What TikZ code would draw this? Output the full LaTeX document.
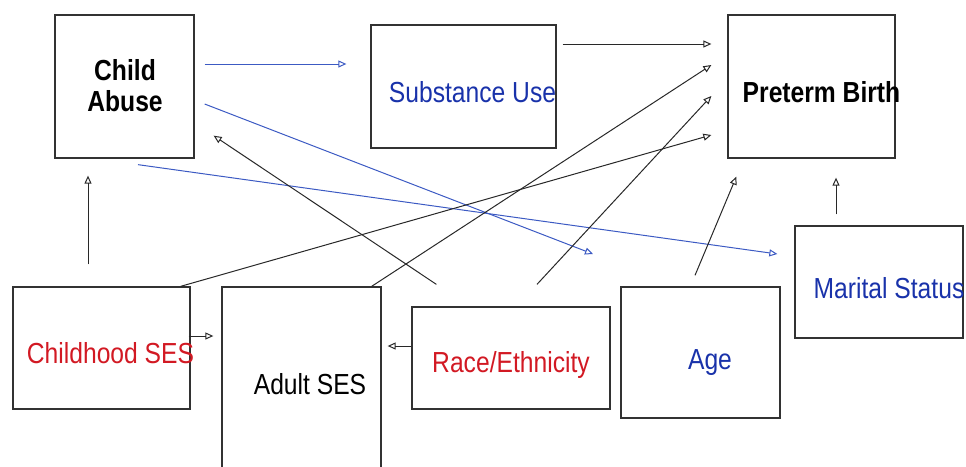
\documentclass[tikz,border=0pt]{standalone}
\usepackage{fontspec}
\setmainfont{Liberation Sans}
\usepackage{graphicx}
\usetikzlibrary{arrows.meta,calc}
\definecolor{boxline}{RGB}{50,50,50}
\definecolor{arrline}{RGB}{40,40,40}
\definecolor{arrblue}{RGB}{60,90,195}
\definecolor{txtblue}{RGB}{25,50,170}
\definecolor{txtred}{RGB}{210,25,35}
\newcommand{\nar}[1]{\scalebox{0.85}[1]{#1}}
\tikzset{
  varbox/.style={draw=boxline, line width=1.3pt, inner sep=0pt, fill=none},
  vtext/.style={anchor=base, inner sep=0pt, font=\fontsize{29}{31}\selectfont},
  conn/.style={draw=arrline, line width=1pt, -{Triangle[open,length=8pt,width=7pt]}},
  bconn/.style={draw=arrblue, line width=1pt, -{Triangle[open,length=8pt,width=7pt]}},
}
\begin{document}
\begin{tikzpicture}[x=1pt,y=-1pt]
\useasboundingbox (0,0) rectangle (966,466);
\clip (0,0) rectangle (966,466);
% boxes
\node[varbox, minimum width=139pt, minimum height=143pt] (ca) at (124.5,86.5) {};
\node[varbox, minimum width=185pt, minimum height=123pt] (su) at (463.5,86.5) {};
\node[varbox, minimum width=167pt, minimum height=143pt] (pb) at (811.5,86.5) {};
\node[varbox, minimum width=168pt, minimum height=112pt] (ms) at (879,282) {};
\node[varbox, minimum width=159pt, minimum height=131pt] (age) at (700.5,352.5) {};
\node[varbox, minimum width=198pt, minimum height=102pt] (re) at (511,358) {};
\node[varbox, minimum width=159pt, minimum height=193pt] (as) at (301.5,383.5) {};
\node[varbox, minimum width=177pt, minimum height=122pt] (cs) at (101.5,348) {};
% texts
\node[vtext, anchor=center] (cat) at (125,89.3) {\nar{\bfseries\begin{tabular}{@{}c@{}}Child\\Abuse\end{tabular}}};
\node[vtext, text=txtblue] (sut) at (472.5,102) {\nar{Substance Use}};
\node[vtext] (pbt) at (821.5,102) {\nar{\bfseries Preterm Birth}};
\node[vtext, text=txtblue] (mst) at (889,298) {\nar{Marital Status}};
\node[vtext, text=txtblue] (aget) at (710,369) {\nar{Age}};
\node[vtext, text=txtred] (ret) at (511,372) {\nar{Race/Ethnicity}};
\node[vtext] (ast) at (310,394) {\nar{Adult SES}};
\node[vtext, text=txtred] (cst) at (110.5,363) {\nar{Childhood SES}};
% free end
\coordinate (free1) at (593,254);
% blue connectors
\draw[bconn] ($(ca.east)+(10,-22.5)$) -- ($(su.west)+(-24,-22.5)$);
\draw[bconn] ($(ca.east)+(10,17.5)$) -- (free1);
\draw[bconn] ($(ca.south)+(13.5,6)$) -- ($(ms.west)+(-17,-28)$);
% black connectors
\draw[conn] ($(su.east)+(6,-42.5)$) -- ($(pb.west)+(-16,-42.5)$);
\draw[conn] ($(as.north east)+(-10,0)$) -- ($(pb.west)+(-16,-21.5)$);
\draw[conn] ($(re.north)+(26,-22)$) -- ($(pb.west)+(-16,9.5)$);
\draw[conn] ($(cs.north east)+(-10,0)$) -- ($(pb.west)+(-16,48.5)$);
\draw[conn] ($(re.north west)+(25,-22)$) -- ($(ca.south east)+(19,-23)$);
\draw[conn] ($(age.north)+(-5.5,-11)$) -- ($(pb.south west)+(9,18)$);
\draw[conn] ($(ms.north)+(-43,-11)$) -- ($(pb.south)+(24.5,19)$);
\draw[conn] ($(cs.east)+(-2,-12)$) -- ($(as.west)+(-8,-47.5)$);
\draw[conn] ($(re.west)+(0,-12)$) -- ($(as.east)+(6,-37.5)$);
\draw[conn] ($(cs.north)+(-13.5,-22)$) -- ($(ca.south)+(-36.5,17)$);
\end{tikzpicture}
\end{document}
